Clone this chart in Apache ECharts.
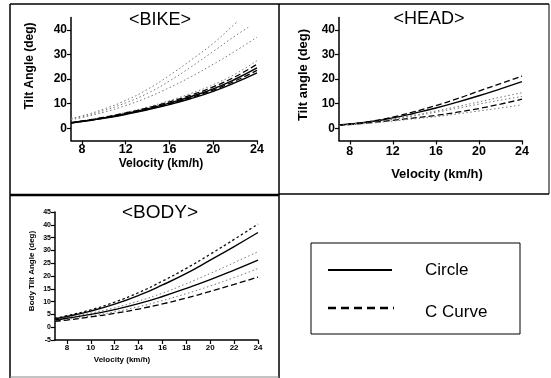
<!DOCTYPE html>
<html><head><meta charset="utf-8">
<script src="https://cdn.jsdelivr.net/npm/echarts@6/dist/echarts.min.js"></script>
<style>html,body{margin:0;padding:0;background:#fff}#c{width:551px;height:378px}</style>
</head><body><div id="c"></div>
<script>
const FONT = 'Liberation Sans, Arial, sans-serif';

// ---------- BIKE ----------
const bikeXTicks = [8, 12, 16, 20, 24];
const bikeYTicks = [0, 10, 20, 30, 40];
const bikeX  = [7, 8, 10, 12, 14, 16, 18, 20, 22, 24];
const bikeXa = [7, 8, 10, 12, 14, 16, 18, 20, 22, 22.3];
const bikeXb = [7, 8, 10, 12, 14, 16, 18, 20, 22, 23.2];
const bikeUpperA = [4.0, 5.0, 7.8, 11.3, 15.8, 21.5, 27.8, 34.5, 42.5, 43.5];
const bikeUpperB = [3.8, 4.7, 7.2, 10.3, 14.2, 19.2, 25.0, 31.2, 37.5, 41.0];
const bikeUpperC = [3.5, 4.3, 6.5, 9.2, 12.5, 16.5, 21.0, 26.0, 31.3, 37.0];
const bikeLow1 = [2.4, 3.0, 4.5, 6.4, 8.6, 11.2, 14.2, 17.7, 22.0, 27.5];
const bikeLow2 = [2.3, 2.9, 4.4, 6.2, 8.3, 10.7, 13.5, 16.8, 20.9, 26.0];
const bikeLow3 = [2.2, 2.8, 4.2, 5.9, 7.9, 10.2, 12.9, 16.0, 19.9, 24.5];
const bikeLow4 = [2.2, 2.8, 4.1, 5.8, 7.7, 9.9, 12.5, 15.5, 19.2, 23.5];
const bikeLow5 = [2.1, 2.7, 4.0, 5.6, 7.5, 9.6, 12.1, 15.0, 18.5, 22.5];

// ---------- HEAD ----------
const headXTicks = [8, 12, 16, 20, 24];
const headYTicks = [0, 10, 20, 30, 40];
const headX = [7, 8, 10, 12, 14, 16, 18, 20, 22, 24];
const headCCurveHigh = [1.3, 1.7, 2.8, 4.5, 6.7, 9.2, 12.0, 15.1, 18.1, 21.2];
const headCircle     = [1.3, 1.7, 2.7, 4.2, 6.1, 8.2, 10.6, 13.2, 16.0, 18.9];
const headDot1       = [1.2, 1.6, 2.5, 3.8, 5.3, 7.0, 8.8, 10.7, 12.6, 14.4];
const headDot2       = [1.2, 1.5, 2.4, 3.6, 5.0, 6.5, 8.1, 9.8, 11.4, 12.9];
const headCCurveLow  = [1.2, 1.5, 2.3, 3.2, 4.2, 5.2, 6.5, 8.0, 9.8, 11.8];
const headDot3       = [1.1, 1.4, 2.1, 2.9, 3.8, 4.7, 5.8, 7.0, 8.2, 9.5];

// ---------- BODY ----------
const bodyXTicks = [8, 10, 12, 14, 16, 18, 20, 22, 24];
const bodyYTicks = [-5, 0, 5, 10, 15, 20, 25, 30, 35, 40, 45];
const bodyX = [7, 8, 10, 12, 14, 16, 18, 20, 22, 24];
const bodyDotHigh   = [3.5, 4.5, 6.8, 9.8, 13.5, 18.0, 23.0, 28.5, 34.3, 40.3];
const bodyCircleHigh= [3.3, 4.2, 6.3, 9.0, 12.4, 16.5, 21.0, 26.2, 31.5, 37.0];
const bodyDotMid    = [3.0, 3.8, 5.5, 7.6, 10.2, 13.3, 17.0, 21.0, 25.2, 29.5];
const bodyCircleLow = [2.8, 3.5, 5.0, 6.9, 9.2, 12.0, 15.2, 18.6, 22.3, 26.2];
const bodyDotLow    = [2.5, 3.1, 4.4, 6.0, 8.0, 10.4, 13.1, 16.1, 19.4, 22.9];
const bodyCCurve    = [2.3, 2.8, 4.0, 5.4, 7.1, 9.1, 11.4, 14.0, 16.7, 19.6];

// ---------- legend ----------
const legendNames = ['Circle', 'C Curve'];

const SOLID = { color: '#000', width: 1.4, type: 'solid' };
const DASH  = { color: '#000', width: 1.3, type: [6, 3] };
const DOTG  = { color: '#777', width: 1, type: [1.5, 2.5] };
const DOTK  = { color: '#111', width: 1.3, type: [2.5, 2.5] };

function mk(xs, ys, style, idx) {
  return {
    type: 'line', smooth: true, showSymbol: false, silent: true,
    xAxisIndex: idx, yAxisIndex: idx,
    lineStyle: style,
    data: xs.map((x, i) => [x, ys[i]])
  };
}

function ax(idx, min, max, ticks, fs, margin) {
  return {
    type: 'value', gridIndex: idx, min: min, max: max,
    axisLine: { onZero: false, lineStyle: { color: '#000', width: 1.5 } },
    axisTick: { show: true, length: 4, customValues: ticks, lineStyle: { color: '#000', width: 1.2 } },
    axisLabel: { customValues: ticks, fontFamily: FONT, fontWeight: 'bold', fontSize: fs, color: '#000', margin: margin },
    splitLine: { show: false }
  };
}

function ln(x1, y1, x2, y2, w, c, dash) {
  return { type: 'line', shape: { x1, y1, x2, y2 }, style: { stroke: c || '#000', lineWidth: w, lineDash: dash || null }, silent: true };
}
function txt(x, y, t, fs, weight, rot) {
  return {
    type: 'text', x, y, rotation: rot || 0, silent: true,
    style: { text: t, fontFamily: FONT, fontSize: fs, fontWeight: weight || 'normal', fill: '#000', align: 'center', verticalAlign: 'middle' }
  };
}

const chart = echarts.init(document.getElementById('c'), null, { renderer: 'canvas' });
chart.setOption({
  animation: false,
  backgroundColor: '#fff',
  grid: [
    { left: 71, top: 17.5, width: 186, height: 123 },
    { left: 339, top: 17.5, width: 183, height: 123 },
    { left: 55, top: 212, width: 203, height: 128 }
  ],
  xAxis: [
    ax(0, 7, 24, bikeXTicks, 12.5, 3),
    ax(1, 7, 24, headXTicks, 12.5, 5),
    ax(2, 7, 24, bodyXTicks, 8, 4)
  ],
  yAxis: [
    ax(0, -5, 45, bikeYTicks, 12, 4),
    ax(1, -5, 45, headYTicks, 12, 4),
    ax(2, -5, 45, bodyYTicks, 7, 4)
  ],
  series: [
    mk(bikeXa, bikeUpperA, DOTG, 0),
    mk(bikeXb, bikeUpperB, DOTG, 0),
    mk(bikeX, bikeUpperC, DOTG, 0),
    mk(bikeX, bikeLow1, DOTG, 0),
    mk(bikeX, bikeLow2, DASH, 0),
    mk(bikeX, bikeLow3, SOLID, 0),
    mk(bikeX, bikeLow4, DASH, 0),
    mk(bikeX, bikeLow5, SOLID, 0),

    mk(headX, headCCurveHigh, DASH, 1),
    mk(headX, headCircle, SOLID, 1),
    mk(headX, headDot1, DOTG, 1),
    mk(headX, headDot2, DOTG, 1),
    mk(headX, headCCurveLow, DASH, 1),
    mk(headX, headDot3, DOTG, 1),

    mk(bodyX, bodyDotHigh, DOTK, 2),
    mk(bodyX, bodyCircleHigh, SOLID, 2),
    mk(bodyX, bodyDotMid, DOTG, 2),
    mk(bodyX, bodyCircleLow, SOLID, 2),
    mk(bodyX, bodyDotLow, DOTG, 2),
    mk(bodyX, bodyCCurve, DASH, 2)
  ],
  graphic: [
    ln(10, 4, 549, 4, 1.5),
    ln(10, 4, 10, 378, 1.5),
    ln(279, 4, 279, 378, 1.5),
    ln(549, 4, 549, 194, 1),
    ln(10, 195, 279, 195, 2.5),
    ln(279, 194, 549, 194, 1.5),
    ln(10, 377, 279, 377, 1, '#888'),
    txt(160, 20, '<BIKE>', 18),
    txt(429, 19, '<HEAD>', 18),
    txt(160, 213, '<BODY>', 19),
    txt(30, 66, 'Tilt Angle (deg)', 12, 'bold', Math.PI / 2),
    txt(161, 164, 'Velocity (km/h)', 12, 'bold'),
    txt(303, 75, 'Tilt angle (deg)', 13, 'bold', Math.PI / 2),
    txt(437, 174, 'Velocity (km/h)', 13, 'bold'),
    txt(32, 271, 'Body Tilt Angle (deg)', 8, 'bold', Math.PI / 2),
    txt(122, 360, 'Velocity (km/h)', 8, 'bold'),
    { type: 'rect', shape: { x: 311, y: 243, width: 209, height: 91 }, style: { fill: '#fff', stroke: '#000', lineWidth: 1 }, silent: true },
    ln(328, 270, 392, 270, 2),
    ln(328, 308, 394, 308, 2.5, '#000', [8, 5]),
    { type: 'text', x: 425, y: 270, silent: true, style: { text: legendNames[0], fontFamily: FONT, fontSize: 17, fill: '#000', align: 'left', verticalAlign: 'middle' } },
    { type: 'text', x: 425, y: 312, silent: true, style: { text: legendNames[1], fontFamily: FONT, fontSize: 17, fill: '#000', align: 'left', verticalAlign: 'middle' } }
  ]
});
</script>
</body></html>
